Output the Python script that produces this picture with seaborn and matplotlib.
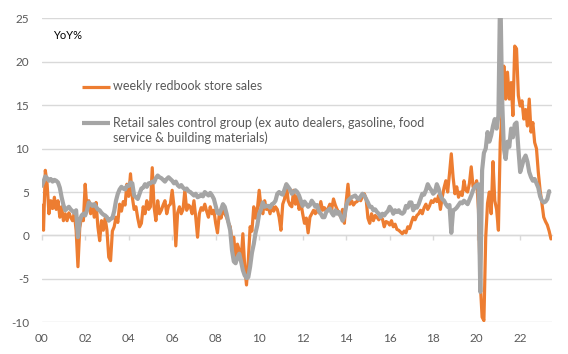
import numpy as np
import pandas as pd
import matplotlib
matplotlib.use("Agg")
import matplotlib.pyplot as plt
import seaborn as sns

sns.set_theme(style="white")
plt.rcParams['font.family'] = ['Lato', 'DejaVu Sans']

# ---- data (monthly, starting Jan 2000), YoY % ----
redbook = (
    [3.5, 0.6, 7.5, 5.9, 2.5, 4.0, 3.1, 4.4, 3.0, 4.0, 2.1, 3.3] +      # 2000
    [1.7, 2.5, 1.7, 2.6, 2.1, 1.7, 2.5, 0.6, -3.6, 0.9, 2.1, 1.7] +     # 2001
    [5.9, 3.0, 4.0, 2.5, 3.6, 2.1, 3.8, 1.0, -0.6, 1.7, 0.6, 2.0] +     # 2002
    [0.6, -2.5, -2.9, 0.5, 1.0, 2.1, 1.5, 3.6, 2.8, 3.9, 3.5, 5.9] +    # 2003
    [4.5, 7.1, 4.4, 3.0, 3.3, 2.0, 1.0, 1.4, 3.3, 2.5, 4.0, 3.0] +      # 2004
    [3.3, 7.8, 3.3, 1.7, 4.0, 2.5, 2.9, 3.5, 4.0, 2.5, 3.4, 3.6] +      # 2005
    [5.2, 3.3, -1.2, 2.6, 3.3, 2.5, 3.0, 5.2, 2.9, 3.5, 3.3, 2.5] +     # 2006
    [4.0, 2.1, -0.2, 2.5, 3.2, 2.9, 3.6, 2.8, 2.1, 3.3, 2.5, 2.9] +     # 2007
    [1.4, 0.3, 2.5, 2.0, 3.3, 2.5, 2.1, 1.5, 1.0, -0.6, -0.2, -2.9] +   # 2008
    [-1.0, -1.7, -3.0, 0.2, -3.5, -5.7, -2.9, 1.0, 0.5, 3.3, 2.0, 3.0] +  # 2009
    [5.2, 3.3, 2.5, 4.0, 3.0, 3.3, 2.5, 3.5, 2.8, 3.3, 3.0, 2.1] +      # 2010
    [0.6, 3.6, 4.2, 5.9, 4.0, 3.5, 3.3, 5.2, 3.6, 4.5, 3.0, 3.8] +      # 2011
    [2.5, 1.4, 2.0, 0.3, 2.1, 2.5, 2.9, 2.5, 3.0, 2.6, 3.9, 2.9] +      # 2012
    [3.2, 2.8, 3.1, 3.6, 3.0, 4.2, 3.5, 3.0, 2.6, 2.1, 3.0, 1.4] +      # 2013
    [3.9, 5.9, 3.6, 4.0, 3.5, 3.8, 3.9, 4.2, 4.0, 4.5, 4.8, 4.2] +      # 2014
    [2.0, 1.4, 2.5, 1.7, 2.3, 2.1, 1.8, 2.1, 1.9, 1.0, 1.6, 1.5] +      # 2015
    [1.2, 1.7, 1.0, 1.3, 0.7, 0.6, 0.4, 0.2, 0.5, 0.3, 1.0, 0.8] +      # 2016
    [1.5, 2.1, 1.8, 2.3, 2.5, 2.9, 2.5, 3.2, 3.6, 3.0, 3.4, 4.0] +      # 2017
    [3.8, 4.2, 3.9, 4.6, 3.0, 4.4, 5.5, 6.3, 5.0, 7.1, 9.4, 6.7] +      # 2018
    [4.8, 5.6, 4.4, 5.0, 4.6, 6.3, 5.2, 5.0, 6.0, 7.9, 5.6, 5.6] +      # 2019
    [6.3, 3.0, -5.5, -9.4, -9.8, -0.2, 3.7, 5.0, 2.5, 8.5, 4.0, 3.0] +  # 2020
    [0.6, 10.7, 14.2, 19.5, 15.7, 18.8, 15.7, 17.6, 13.8, 21.8, 21.5, 16.1] +  # 2021
    [14.9, 15.5, 13.4, 14.5, 12.6, 15.7, 11.9, 13.0, 10.7, 10.0, 7.3, 5.2] +   # 2022
    [3.7, 2.1, 1.6, 1.2, 0.5, -0.4]                                     # 2023
)

control_group = (
    [5.7, 6.2, 6.8, 6.6, 6.3, 6.5, 6.2, 6.4, 6.3, 6.1, 5.5, 4.4] +      # 2000
    [3.5, 2.9, 3.1, 3.3, 3.0, 2.8, 2.6, 2.9, -0.2, 1.7, 2.3, 2.5] +     # 2001
    [2.3, 2.9, 3.8, 3.6, 3.4, 3.6, 3.3, 3.0, 2.9, 2.6, 2.4, 2.3] +      # 2002
    [2.1, 1.7, 1.9, 2.0, 2.8, 4.0, 4.8, 5.3, 5.6, 5.4, 5.3, 5.7] +      # 2003
    [5.7, 6.1, 6.0, 4.6, 4.4, 4.2, 4.8, 5.4, 5.5, 5.9, 5.6, 6.0] +      # 2004
    [6.0, 6.2, 6.1, 6.6, 6.9, 6.7, 6.6, 6.4, 6.2, 6.5, 6.7, 6.5] +      # 2005
    [6.3, 6.0, 6.2, 5.8, 5.6, 5.8, 5.5, 5.3, 5.4, 5.1, 5.0, 4.8] +      # 2006
    [4.6, 4.8, 4.4, 4.5, 4.7, 4.5, 5.0, 4.8, 4.6, 4.9, 4.6, 4.2] +      # 2007
    [3.4, 2.6, 2.5, 3.0, 3.6, 3.3, 2.5, 1.5, 0.6, -1.7, -3.0, -3.2] +   # 2008
    [-2.5, -2.1, -3.0, -4.0, -4.6, -4.9, -4.8, -3.6, -2.0, -1.0, 0.3, 1.2] +  # 2009
    [2.5, 3.0, 3.8, 3.3, 3.4, 3.4, 3.2, 3.6, 3.7, 4.0, 4.8, 5.0] +      # 2010
    [4.8, 4.7, 5.3, 5.9, 5.6, 5.3, 4.8, 5.0, 5.2, 5.0, 4.6, 4.0] +      # 2011
    [3.4, 3.9, 3.6, 3.3, 3.5, 4.0, 3.7, 3.3, 3.5, 2.8, 2.5, 2.1] +      # 2012
    [2.1, 2.7, 2.9, 3.1, 2.6, 2.3, 2.9, 2.5, 2.7, 2.2, 1.7, 2.2] +      # 2013
    [3.4, 4.0, 4.2, 4.4, 4.5, 4.6, 4.3, 4.2, 4.5, 4.8, 4.6, 4.2] +      # 2014
    [3.8, 3.3, 3.3, 2.9, 3.0, 2.7, 2.5, 2.1, 2.5, 2.3, 2.6, 2.8] +      # 2015
    [3.3, 3.0, 2.5, 2.9, 2.7, 2.9, 2.6, 2.5, 2.7, 3.4, 3.2, 3.8] +      # 2016
    [3.8, 2.9, 3.4, 3.2, 3.6, 4.2, 4.8, 4.7, 5.2, 5.9, 5.5, 5.2] +      # 2017
    [4.8, 5.0, 5.9, 5.4, 4.6, 4.2, 4.0, 3.6, 3.3, 3.5, 0.3, 2.9] +      # 2018
    [3.0, 3.2, 3.5, 3.8, 3.7, 4.0, 3.8, 3.6, 4.1, 4.6, 5.2, 5.6] +      # 2019
    [5.8, 5.9, -6.5, 7.5, 9.5, 10.0, 11.9, 10.8, 11.5, 12.6, 13.4, 12.3] +   # 2020
    [13.8, 29.0, 16.0, 10.0, 8.8, 10.8, 10.2, 12.3, 11.3, 12.8, 13.0, 10.0] + # 2021
    [7.3, 8.0, 8.8, 9.2, 8.5, 7.3, 6.7, 6.3, 6.5, 6.0, 5.5, 4.5] +      # 2022
    [4.0, 3.8, 3.9, 4.2, 5.1]                                           # 2023
)

start_year = 2000
tick_years = list(range(2000, 2023, 2))
tick_labels = ['00', '02', '04', '06', '08', '10', '12', '14', '16', '18', '20', '22']
y_ticks = [-10, -5, 0, 5, 10, 15, 20, 25]

label_orange = "weekly redbook store sales"
label_gray_1 = "Retail sales control group (ex auto dealers, gasoline, food"
label_gray_2 = "service & building materials)"

df_o = pd.DataFrame({'t': start_year + np.arange(len(redbook)) / 12.0, 'v': redbook})
df_g = pd.DataFrame({'t': start_year + np.arange(len(control_group)) / 12.0, 'v': control_group})

ORANGE = '#ED7D31'
GRAY = '#A5A5A5'
GRID = '#D9D9D9'
TXT = '#595959'

fig = plt.figure(figsize=(5.68, 3.54), dpi=100)
ax = fig.add_axes([0.0734, 0.0895, 0.8979, 0.8588])

sns.lineplot(data=df_o, x='t', y='v', color=ORANGE, linewidth=2.3, ax=ax, zorder=3)
sns.lineplot(data=df_g, x='t', y='v', color=GRAY, linewidth=3.0, ax=ax, zorder=4)

ax.set_xlim(2000, 2023.45)
ax.set_ylim(-10, 25)
ax.set_yticks(y_ticks)
ax.set_yticklabels([str(v) for v in y_ticks])
ax.grid(axis='y', color=GRID, linewidth=1.0)
ax.grid(axis='x', visible=False)
ax.set_axisbelow(True)
ax.set_xlabel('')
ax.set_ylabel('')

for name, sp in ax.spines.items():
    sp.set_visible(False)
ax.spines['bottom'].set_visible(True)
ax.spines['bottom'].set_position(('data', 0))
ax.spines['bottom'].set_color(GRID)
ax.spines['bottom'].set_linewidth(1.0)
ax.spines['bottom'].set_zorder(1)

ax.set_xticks(tick_years)
ax.tick_params(axis='x', direction='out', length=3.5, width=1.0, color=GRID,
               labelbottom=False, bottom=True)
ax.tick_params(axis='y', length=0, pad=9, labelcolor=TXT, labelsize=8.5)

sec = ax.secondary_xaxis(0.0)
sec.set_xticks(tick_years)
sec.set_xticklabels(tick_labels)
sec.tick_params(axis='x', length=0, pad=8, labelcolor=TXT, labelsize=8.5)
for sp in sec.spines.values():
    sp.set_visible(False)

# legend-like annotations
ax.text(0.0227, 0.943, "YoY%", transform=ax.transAxes, ha='left', va='center',
        fontsize=8, color='black')
ax.plot([0.0784, 0.1339], [0.775, 0.775], transform=ax.transAxes, color=ORANGE,
        linewidth=2.3, solid_capstyle='butt', clip_on=False)
ax.text(0.1398, 0.7757, label_orange, transform=ax.transAxes, ha='left', va='center',
        fontsize=9, color=TXT)
ax.plot([0.0784, 0.1339], [0.6566, 0.6566], transform=ax.transAxes, color=GRAY,
        linewidth=3.0, solid_capstyle='butt', clip_on=False)
ax.text(0.1398, 0.6556, label_gray_1, transform=ax.transAxes, ha='left', va='center',
        fontsize=9, color=TXT)
ax.text(0.1398, 0.607, label_gray_2, transform=ax.transAxes, ha='left', va='center',
        fontsize=9, color=TXT)

fig.savefig('out.png', dpi=100)
